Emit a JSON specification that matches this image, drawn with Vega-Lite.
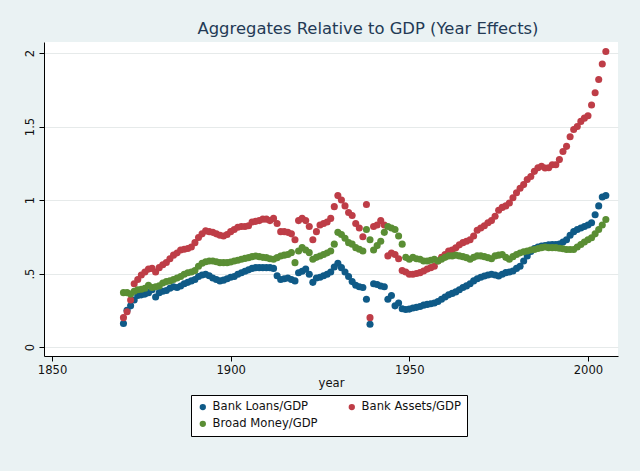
{
  "$schema": "https://vega.github.io/schema/vega-lite/v6.json",
  "width": 574,
  "height": 314,
  "autosize": {"type": "none"},
  "padding": {"left": 44, "top": 42, "right": 22, "bottom": 115},
  "background": "#eaf2f3",
  "title": {
    "text": "Aggregates Relative to GDP (Year Effects)",
    "font": "DejaVu Sans",
    "fontSize": 16.4,
    "fontWeight": "normal",
    "color": "#233a55",
    "anchor": "middle",
    "dx": 37,
    "offset": 5
  },
  "data": {
    "values": [
      {"year": 1870, "loans": 0.16, "assets": 0.20, "money": 0.37},
      {"year": 1871, "loans": 0.25, "assets": 0.24, "money": 0.37},
      {"year": 1872, "loans": 0.28, "assets": 0.32, "money": 0.36},
      {"year": 1873, "loans": 0.32, "assets": 0.43, "money": 0.38},
      {"year": 1874, "loans": 0.35, "assets": 0.46, "money": 0.39},
      {"year": 1875, "loans": 0.355, "assets": 0.49, "money": 0.393},
      {"year": 1876, "loans": 0.36, "assets": 0.51, "money": 0.40},
      {"year": 1877, "loans": 0.37, "assets": 0.53, "money": 0.42},
      {"year": 1878, "loans": 0.39, "assets": 0.535, "money": 0.405},
      {"year": 1879, "loans": 0.34, "assets": 0.51, "money": 0.41},
      {"year": 1880, "loans": 0.37, "assets": 0.54, "money": 0.416},
      {"year": 1881, "loans": 0.38, "assets": 0.56, "money": 0.435},
      {"year": 1882, "loans": 0.385, "assets": 0.575, "money": 0.445},
      {"year": 1883, "loans": 0.40, "assets": 0.60, "money": 0.45},
      {"year": 1884, "loans": 0.41, "assets": 0.625, "money": 0.46},
      {"year": 1885, "loans": 0.405, "assets": 0.64, "money": 0.47},
      {"year": 1886, "loans": 0.415, "assets": 0.66, "money": 0.48},
      {"year": 1887, "loans": 0.43, "assets": 0.665, "money": 0.495},
      {"year": 1888, "loans": 0.44, "assets": 0.67, "money": 0.505},
      {"year": 1889, "loans": 0.45, "assets": 0.68, "money": 0.51},
      {"year": 1890, "loans": 0.46, "assets": 0.71, "money": 0.52},
      {"year": 1891, "loans": 0.48, "assets": 0.745, "money": 0.55},
      {"year": 1892, "loans": 0.49, "assets": 0.77, "money": 0.57},
      {"year": 1893, "loans": 0.495, "assets": 0.79, "money": 0.58},
      {"year": 1894, "loans": 0.485, "assets": 0.785, "money": 0.585},
      {"year": 1895, "loans": 0.47, "assets": 0.78, "money": 0.585},
      {"year": 1896, "loans": 0.46, "assets": 0.77, "money": 0.58},
      {"year": 1897, "loans": 0.45, "assets": 0.76, "money": 0.574},
      {"year": 1898, "loans": 0.455, "assets": 0.755, "money": 0.574},
      {"year": 1899, "loans": 0.465, "assets": 0.765, "money": 0.574},
      {"year": 1900, "loans": 0.475, "assets": 0.785, "money": 0.578},
      {"year": 1901, "loans": 0.48, "assets": 0.80, "money": 0.585},
      {"year": 1902, "loans": 0.495, "assets": 0.815, "money": 0.59},
      {"year": 1903, "loans": 0.505, "assets": 0.82, "money": 0.597},
      {"year": 1904, "loans": 0.515, "assets": 0.82, "money": 0.603},
      {"year": 1905, "loans": 0.525, "assets": 0.825, "money": 0.608},
      {"year": 1906, "loans": 0.535, "assets": 0.85, "money": 0.615},
      {"year": 1907, "loans": 0.54, "assets": 0.855, "money": 0.619},
      {"year": 1908, "loans": 0.54, "assets": 0.86, "money": 0.615},
      {"year": 1909, "loans": 0.54, "assets": 0.87, "money": 0.61},
      {"year": 1910, "loans": 0.54, "assets": 0.87, "money": 0.608},
      {"year": 1911, "loans": 0.54, "assets": 0.86, "money": 0.60},
      {"year": 1912, "loans": 0.535, "assets": 0.875, "money": 0.597},
      {"year": 1913, "loans": 0.485, "assets": 0.84, "money": 0.608},
      {"year": 1914, "loans": 0.46, "assets": 0.785, "money": 0.619},
      {"year": 1915, "loans": 0.465, "assets": 0.785, "money": 0.625},
      {"year": 1916, "loans": 0.47, "assets": 0.78, "money": 0.63},
      {"year": 1917, "loans": 0.46, "assets": 0.77, "money": 0.642},
      {"year": 1918, "loans": 0.45, "assets": 0.73, "money": 0.574},
      {"year": 1919, "loans": 0.505, "assets": 0.86, "money": 0.653},
      {"year": 1920, "loans": 0.515, "assets": 0.875, "money": 0.676},
      {"year": 1921, "loans": 0.53, "assets": 0.86, "money": 0.66},
      {"year": 1922, "loans": 0.495, "assets": 0.82, "money": 0.642},
      {"year": 1923, "loans": 0.44, "assets": 0.73, "money": 0.597},
      {"year": 1924, "loans": 0.47, "assets": 0.785, "money": 0.61},
      {"year": 1925, "loans": 0.475, "assets": 0.83, "money": 0.619},
      {"year": 1926, "loans": 0.485, "assets": 0.84, "money": 0.63},
      {"year": 1927, "loans": 0.495, "assets": 0.85, "money": 0.64},
      {"year": 1928, "loans": 0.51, "assets": 0.875, "money": 0.653},
      {"year": 1929, "loans": 0.545, "assets": 0.955, "money": 0.70},
      {"year": 1930, "loans": 0.57, "assets": 1.03, "money": 0.78},
      {"year": 1931, "loans": 0.54, "assets": 1.00, "money": 0.766},
      {"year": 1932, "loans": 0.51, "assets": 0.96, "money": 0.74},
      {"year": 1933, "loans": 0.48, "assets": 0.915, "money": 0.71},
      {"year": 1934, "loans": 0.445, "assets": 0.895, "money": 0.70},
      {"year": 1935, "loans": 0.42, "assets": 0.84, "money": 0.676},
      {"year": 1936, "loans": 0.41, "assets": 0.81, "money": 0.665},
      {"year": 1937, "loans": 0.405, "assets": 0.75, "money": 0.653},
      {"year": 1938, "loans": 0.325, "assets": 0.97, "money": 0.80},
      {"year": 1939, "loans": 0.155, "assets": 0.20, "money": 0.73},
      {"year": 1940, "loans": 0.43, "assets": 0.82, "money": 0.66},
      {"year": 1941, "loans": 0.425, "assets": 0.83, "money": 0.69},
      {"year": 1942, "loans": 0.415, "assets": 0.86, "money": 0.72},
      {"year": 1943, "loans": 0.41, "assets": 0.83, "money": 0.78},
      {"year": 1944, "loans": 0.325, "assets": 0.62, "money": 0.82},
      {"year": 1945, "loans": 0.35, "assets": 0.64, "money": 0.81},
      {"year": 1946, "loans": 0.28, "assets": 0.63, "money": 0.80},
      {"year": 1947, "loans": 0.30, "assets": 0.60, "money": 0.755},
      {"year": 1948, "loans": 0.26, "assets": 0.52, "money": 0.70},
      {"year": 1949, "loans": 0.255, "assets": 0.51, "money": 0.61},
      {"year": 1950, "loans": 0.258, "assets": 0.495, "money": 0.597},
      {"year": 1951, "loans": 0.265, "assets": 0.495, "money": 0.61},
      {"year": 1952, "loans": 0.27, "assets": 0.50, "money": 0.60},
      {"year": 1953, "loans": 0.276, "assets": 0.506, "money": 0.597},
      {"year": 1954, "loans": 0.285, "assets": 0.517, "money": 0.585},
      {"year": 1955, "loans": 0.29, "assets": 0.53, "money": 0.585},
      {"year": 1956, "loans": 0.295, "assets": 0.54, "money": 0.59},
      {"year": 1957, "loans": 0.30, "assets": 0.55, "money": 0.597},
      {"year": 1958, "loans": 0.31, "assets": 0.585, "money": 0.585},
      {"year": 1959, "loans": 0.325, "assets": 0.61, "money": 0.597},
      {"year": 1960, "loans": 0.34, "assets": 0.63, "money": 0.61},
      {"year": 1961, "loans": 0.355, "assets": 0.653, "money": 0.62},
      {"year": 1962, "loans": 0.365, "assets": 0.66, "money": 0.62},
      {"year": 1963, "loans": 0.375, "assets": 0.675, "money": 0.625},
      {"year": 1964, "loans": 0.39, "assets": 0.695, "money": 0.62},
      {"year": 1965, "loans": 0.405, "assets": 0.71, "money": 0.615},
      {"year": 1966, "loans": 0.416, "assets": 0.72, "money": 0.608},
      {"year": 1967, "loans": 0.43, "assets": 0.73, "money": 0.597},
      {"year": 1968, "loans": 0.45, "assets": 0.755, "money": 0.61},
      {"year": 1969, "loans": 0.465, "assets": 0.795, "money": 0.62},
      {"year": 1970, "loans": 0.475, "assets": 0.81, "money": 0.62},
      {"year": 1971, "loans": 0.483, "assets": 0.825, "money": 0.615},
      {"year": 1972, "loans": 0.49, "assets": 0.845, "money": 0.608},
      {"year": 1973, "loans": 0.495, "assets": 0.86, "money": 0.60},
      {"year": 1974, "loans": 0.49, "assets": 0.89, "money": 0.62},
      {"year": 1975, "loans": 0.483, "assets": 0.93, "money": 0.625},
      {"year": 1976, "loans": 0.495, "assets": 0.95, "money": 0.63},
      {"year": 1977, "loans": 0.506, "assets": 0.96, "money": 0.61},
      {"year": 1978, "loans": 0.51, "assets": 0.98, "money": 0.597},
      {"year": 1979, "loans": 0.517, "assets": 1.015, "money": 0.615},
      {"year": 1980, "loans": 0.535, "assets": 1.05, "money": 0.63},
      {"year": 1981, "loans": 0.55, "assets": 1.08, "money": 0.64},
      {"year": 1982, "loans": 0.585, "assets": 1.105, "money": 0.648},
      {"year": 1983, "loans": 0.62, "assets": 1.14, "money": 0.653},
      {"year": 1984, "loans": 0.65, "assets": 1.16, "money": 0.66},
      {"year": 1985, "loans": 0.67, "assets": 1.195, "money": 0.664},
      {"year": 1986, "loans": 0.68, "assets": 1.22, "money": 0.67},
      {"year": 1987, "loans": 0.687, "assets": 1.23, "money": 0.676},
      {"year": 1988, "loans": 0.69, "assets": 1.218, "money": 0.68},
      {"year": 1989, "loans": 0.695, "assets": 1.22, "money": 0.676},
      {"year": 1990, "loans": 0.698, "assets": 1.24, "money": 0.676},
      {"year": 1991, "loans": 0.698, "assets": 1.24, "money": 0.676},
      {"year": 1992, "loans": 0.70, "assets": 1.275, "money": 0.672},
      {"year": 1993, "loans": 0.715, "assets": 1.33, "money": 0.669},
      {"year": 1994, "loans": 0.73, "assets": 1.365, "money": 0.664},
      {"year": 1995, "loans": 0.76, "assets": 1.43, "money": 0.664},
      {"year": 1996, "loans": 0.785, "assets": 1.48, "money": 0.664},
      {"year": 1997, "loans": 0.80, "assets": 1.50, "money": 0.68},
      {"year": 1998, "loans": 0.81, "assets": 1.535, "money": 0.698},
      {"year": 1999, "loans": 0.82, "assets": 1.557, "money": 0.715},
      {"year": 2000, "loans": 0.83, "assets": 1.573, "money": 0.73},
      {"year": 2001, "loans": 0.845, "assets": 1.647, "money": 0.744},
      {"year": 2002, "loans": 0.90, "assets": 1.73, "money": 0.77},
      {"year": 2003, "loans": 0.96, "assets": 1.82, "money": 0.80},
      {"year": 2004, "loans": 1.02, "assets": 1.925, "money": 0.83},
      {"year": 2005, "loans": 1.03, "assets": 2.01, "money": 0.868}
    ]
  },
  "encoding": {
    "x": {
      "field": "year",
      "type": "quantitative",
      "title": "year",
      "scale": {"domain": [1847.76, 2008.4], "nice": false, "zero": false},
      "axis": {"values": [1850, 1900, 1950, 2000], "format": "d", "grid": false}
    }
  },
  "layer": [
    {
      "mark": {"type": "point", "filled": true, "size": 50, "opacity": 1},
      "encoding": {
        "y": {
          "field": "loans", "type": "quantitative", "title": null,
          "scale": {"domain": [-0.061, 2.075], "nice": false, "zero": false},
          "axis": {"values": [0, 0.5, 1, 1.5, 2], "labelExpr": "datum.value == 0.5 ? '.5' : datum.value == 1.5 ? '1.5' : format(datum.value, 'd')"}
        },
        "color": {
          "datum": "Bank Loans/GDP", "type": "nominal",
          "scale": {"domain": ["Bank Loans/GDP", "Bank Assets/GDP", "Broad Money/GDP"], "range": ["#0f5a87", "#be3d47", "#5a8e34"]},
          "legend": {"title": null}
        }
      }
    },
    {
      "mark": {"type": "point", "filled": true, "size": 50, "opacity": 1},
      "encoding": {
        "y": {
          "field": "assets", "type": "quantitative", "title": null,
          "scale": {"domain": [-0.061, 2.075], "nice": false, "zero": false},
          "axis": {"values": [0, 0.5, 1, 1.5, 2], "labelExpr": "datum.value == 0.5 ? '.5' : datum.value == 1.5 ? '1.5' : format(datum.value, 'd')"}
        },
        "color": {"datum": "Bank Assets/GDP", "type": "nominal"}
      }
    },
    {
      "mark": {"type": "point", "filled": true, "size": 50, "opacity": 1},
      "encoding": {
        "y": {
          "field": "money", "type": "quantitative", "title": null,
          "scale": {"domain": [-0.061, 2.075], "nice": false, "zero": false},
          "axis": {"values": [0, 0.5, 1, 1.5, 2], "labelExpr": "datum.value == 0.5 ? '.5' : datum.value == 1.5 ? '1.5' : format(datum.value, 'd')"}
        },
        "color": {"datum": "Broad Money/GDP", "type": "nominal"}
      }
    }
  ],
  "config": {
    "view": {"stroke": null, "fill": "#ffffff"},
    "font": "DejaVu Sans",
    "axis": {
      "domainColor": "#000000",
      "domainWidth": 1,
      "tickColor": "#000000",
      "tickSize": 5,
      "labelFont": "DejaVu Sans",
      "labelFontSize": 11.6,
      "labelColor": "#111111",
      "titleFont": "DejaVu Sans",
      "titleFontSize": 11.6,
      "titleFontWeight": "normal",
      "titleColor": "#111111"
    },
    "axisX": {"labelPadding": 3, "titlePadding": 2},
    "axisY": {
      "labelAngle": -90,
      "labelPadding": 4,
      "grid": true,
      "gridColor": "#e6eaea",
      "gridWidth": 1
    },
    "legend": {
      "orient": "none",
      "legendX": 147,
      "legendY": 353,
      "direction": "horizontal",
      "columns": 2,
      "strokeColor": "#000000",
      "fillColor": "#ffffff",
      "padding": 6,
      "symbolType": "circle",
      "symbolSize": 40,
      "symbolOpacity": 1,
      "labelFont": "DejaVu Sans",
      "labelFontSize": 11.6,
      "labelColor": "#111111",
      "labelLimit": 300,
      "columnPadding": 28,
      "rowPadding": 4
    }
  }
}
